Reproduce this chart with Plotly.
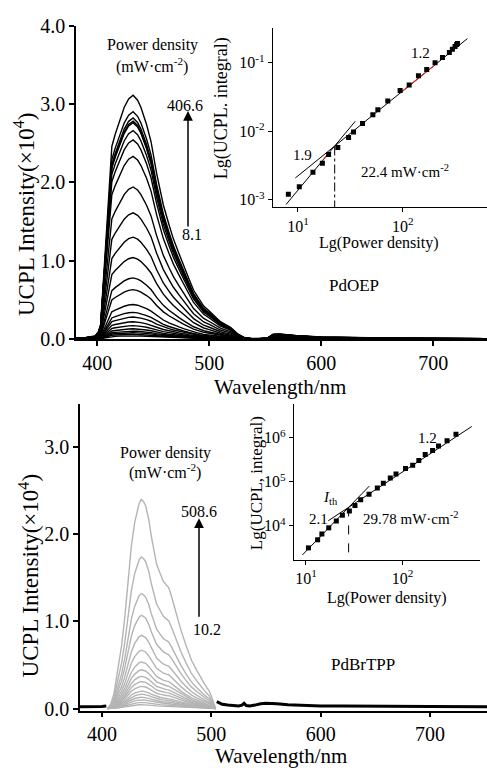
import plotly.graph_objects as go

W, H = 487, 773

# ---- PdOEP upconversion spectra (top panel), intensity in 1e4 counts ----
wl_oep = [381, 390, 398, 401, 403, 406, 409, 413, 416, 420, 424, 428, 432, 436, 439,
          444, 448, 453, 459, 464, 468, 473, 477, 482, 486, 491, 495, 500, 504, 510,
          515, 519, 525, 531, 537, 545, 552, 557, 563, 570, 580, 600, 630, 670, 710, 748]
shape_oep = [0.004, 0.006, 0.012, 0.03, 0.06, 0.28, 0.52, 0.79, 0.84, 0.90, 0.95, 0.985, 1.0, 0.98, 0.95,
             0.88, 0.81, 0.68, 0.55, 0.47, 0.41, 0.35, 0.30, 0.245, 0.20, 0.165, 0.135, 0.115, 0.097, 0.071,
             0.058, 0.048, 0.022, 0.006, 0.002, 0.001, 0.004, 0.02, 0.021, 0.018, 0.013, 0.008, 0.005, 0.003, 0.002, 0.001]
peaks_oep = [3.11, 2.90, 2.82, 2.78, 2.76, 2.66, 2.54, 2.33, 1.94, 1.61, 1.30, 1.04,
             0.78, 0.63, 0.44, 0.34, 0.28, 0.22, 0.17, 0.13, 0.10, 0.08, 0.06, 0.04]

# ---- PdOEP inset: integral vs power density ----
pow_oep = [8.1, 10.3, 13.9, 17.1, 19.6, 24.0, 30.4, 33.9, 41.3, 51.8, 57.8, 71.9,
           94.3, 115, 141, 169, 203, 239, 278, 297, 315, 326, 332]
int_oep = [0.0012, 0.00155, 0.00253, 0.0034, 0.00456, 0.0058, 0.0081, 0.0098, 0.013, 0.0175, 0.0206, 0.0276,
           0.0395, 0.0476, 0.0646, 0.080, 0.10, 0.12, 0.142, 0.158, 0.173, 0.186, 0.192]
fit_hi_oep_x = [9.44, 413]
fit_hi_oep_y = [0.00208, 0.226]
fit_lo_oep_x = [7.69, 35.2]
fit_lo_oep_y = [0.00085, 0.0140]
red_lo_oep_x = [17.1, 19.6]
red_lo_oep_y = [0.0037, 0.0048]
red_hi_oep_x = [94.4, 196]
red_hi_oep_y = [0.0362, 0.0895]
th_oep_x = [22.4, 22.4]
th_oep_y = [0.0060, 0.00078]

# ---- PdBrTPP spectra (bottom panel) ----
wl_tpp = [405, 408, 411, 414, 418, 421, 424, 427, 430, 432, 434, 436, 438, 440, 443, 445, 448, 450,
          453, 456, 459, 461, 464, 467, 472, 477, 482, 487, 490, 493, 496, 498, 500, 502, 504]
shape_tpp = [0.0, 0.02, 0.07, 0.16, 0.30, 0.44, 0.61, 0.78, 0.89, 0.94, 0.98, 1.0, 0.99, 0.97, 0.90, 0.83, 0.75, 0.69,
             0.65, 0.61, 0.59, 0.58, 0.53, 0.47, 0.38, 0.30, 0.23, 0.18, 0.15, 0.125, 0.10, 0.085, 0.06, 0.03, 0.0]
peaks_tpp = [2.40, 1.74, 1.32, 1.07, 0.84, 0.67, 0.535, 0.445, 0.37, 0.31, 0.255,
             0.20, 0.165, 0.13, 0.10, 0.07, 0.045]
wl_base = [380, 385, 390, 395, 400, 404, None, 505, 510, 515, 520, 525, 528, 530, 532, 535, 540, 545,
           550, 555, 560, 570, 580, 590, 600, 620, 650, 700, 752]
base_tpp = [0.02, 0.02, 0.025, 0.02, 0.025, 0.03, None, 0.08, 0.05, 0.04, 0.035, 0.03, 0.04, 0.06, 0.035, 0.03, 0.04, 0.055,
            0.06, 0.06, 0.055, 0.045, 0.04, 0.035, 0.03, 0.03, 0.025, 0.025, 0.02]

# ---- PdBrTPP inset ----
pow_tpp = [10.6, 13.2, 14.6, 17.2, 20.6, 23.8, 28.1, 32.1, 36.8, 44.9, 54.7, 63.1, 74.5, 85.3,
           107, 127, 147, 171, 204, 235, 288, 356]
int_tpp = [3162, 4830, 6550, 9030, 12900, 17500, 21800, 29000, 39400, 52500, 72400, 93300, 122000, 150000,
           200000, 237000, 305000, 415000, 517000, 655000, 859000, 1205000]
fit_hi_tpp_x = [17.0, 518]
fit_hi_tpp_y = [13100, 1807000]
fit_lo_tpp_x = [9.16, 45.2]
fit_lo_tpp_y = [2178, 80200]
red_lo_tpp_x = [12.5, 15.0]
red_lo_tpp_y = [4400, 6500]
th_tpp_x = [27.6, 27.6]
th_tpp_y = [26300, 1690]

FONT = "Liberation Serif"


def px(x):
    return x / W


def py(y):
    return 1 - y / H


fig = go.Figure()


def line(x, y, ax, color="black", width=1.3, dash=None):
    fig.add_trace(go.Scatter(x=x, y=y, mode="lines", xaxis=ax[0], yaxis=ax[1],
                             line=dict(color=color, width=width, dash=dash),
                             showlegend=False, hoverinfo="skip"))


# top spectra
for pk in peaks_oep:
    line(wl_oep, [pk * v for v in shape_oep], ("x", "y"), width=1.4)

# top inset
line(fit_hi_oep_x, fit_hi_oep_y, ("x2", "y2"), width=1)
line(fit_lo_oep_x, fit_lo_oep_y, ("x2", "y2"), width=1)
line(red_lo_oep_x, red_lo_oep_y, ("x2", "y2"), color="#d03020", width=1.2)
line(red_hi_oep_x, red_hi_oep_y, ("x2", "y2"), color="#d03020", width=1.2)
line(th_oep_x, th_oep_y, ("x2", "y2"), width=1, dash="dashdot")
fig.add_trace(go.Scatter(x=pow_oep, y=int_oep, mode="markers", xaxis="x2", yaxis="y2",
                         marker=dict(symbol="square", size=5, color="black"),
                         showlegend=False, hoverinfo="skip"))

# bottom spectra
line(wl_base, base_tpp, ("x3", "y3"), width=3)
for pk in peaks_tpp[::-1]:
    line(wl_tpp, [pk * v for v in shape_tpp], ("x3", "y3"), color="#b4b4b4", width=1.4)

# bottom inset
line(fit_hi_tpp_x, fit_hi_tpp_y, ("x4", "y4"), width=1)
line(fit_lo_tpp_x, fit_lo_tpp_y, ("x4", "y4"), width=1)
line(red_lo_tpp_x, red_lo_tpp_y, ("x4", "y4"), color="#d03020", width=1.2)
line(th_tpp_x, th_tpp_y, ("x4", "y4"), width=1, dash="dash")
fig.add_trace(go.Scatter(x=pow_tpp, y=int_tpp, mode="markers", xaxis="x4", yaxis="y4",
                         marker=dict(symbol="square", size=5, color="black"),
                         showlegend=False, hoverinfo="skip"))

main_ax = dict(showline=True, linecolor="black", linewidth=1.5, ticks="outside", ticklen=5,
               tickwidth=1.5, tickcolor="black", showgrid=False, zeroline=False,
               tickfont=dict(family=FONT, size=20, color="black"))
inset_ax = dict(showline=True, linecolor="black", linewidth=1.2, ticks="outside", ticklen=4,
                tickwidth=1.2, tickcolor="black", showgrid=False, zeroline=False, type="log",
                tickfont=dict(family=FONT, size=16, color="black"))

fig.update_layout(
    width=W, height=H, margin=dict(l=0, r=0, t=0, b=0),
    paper_bgcolor="white", plot_bgcolor="rgba(0,0,0,0)",
    font=dict(family=FONT, color="black"),
    xaxis=dict(main_ax, domain=[px(76), 1], anchor="y", range=[381, 748],
               tickvals=[400, 500, 600, 700]),
    yaxis=dict(main_ax, domain=[py(338), py(15)], anchor="x", range=[-0.005, 4.0],
               tickvals=[0, 1, 2, 3, 4], tickformat=".1f"),
    xaxis2=dict(inset_ax, domain=[px(273), 1], anchor="y2", range=[0.762, 2.803],
                tickvals=[10, 100], ticktext=["10<sup>1</sup>", "10<sup>2</sup>"]),
    yaxis2=dict(inset_ax, domain=[py(202), py(17)], anchor="x2", range=[-3.11, -0.484],
                tickvals=[0.001, 0.01, 0.1],
                ticktext=["10<sup>-3</sup>", "10<sup>-2</sup>", "10<sup>-1</sup>"]),
    xaxis3=dict(main_ax, domain=[px(80), 1], anchor="y3", range=[380, 752],
                tickvals=[400, 500, 600, 700]),
    yaxis3=dict(main_ax, domain=[py(720), py(405)], anchor="x3", range=[-0.022, 3.49],
                tickvals=[0, 1, 2, 3], tickformat=".1f"),
    xaxis4=dict(inset_ax, domain=[px(294), px(480)], anchor="y4", range=[0.876, 2.8],
                tickvals=[10, 100], ticktext=["10<sup>1</sup>", "10<sup>2</sup>"]),
    yaxis4=dict(inset_ax, domain=[py(565), py(405)], anchor="x4", range=[3.227, 6.757],
                tickvals=[1e4, 1e5, 1e6],
                ticktext=["10<sup>4</sup>", "10<sup>5</sup>", "10<sup>6</sup>"]),
)


def text(t, x, y, size=16, angle=0, **kw):
    fig.add_annotation(text=t, x=px(x), y=py(y), xref="paper", yref="paper",
                       showarrow=False, textangle=angle, xanchor="center", yanchor="middle",
                       font=dict(family=FONT, size=size, color="black"), **kw)


# axis titles
text("UCPL Intensity(×10<sup>4</sup>)", 24, 209, size=23, angle=-90)
text("Wavelength/nm", 280, 387, size=21)
text("UCPL Intensity(×10<sup>4</sup>)", 29, 581, size=23, angle=-90)
text("Wavelength/nm", 281, 767, size=21)
text("Lg(UCPL. integral)", 221, 100, size=18, angle=-90)
text("Lg(Power density)", 379, 239, size=16)
text("Lg(UCPL, integral)", 256, 486, size=17, angle=-90)
text("Lg(Power density)", 387, 604, size=16)

# top panel labels
text("Power density", 152, 35)
text("(mW·cm<sup>-2</sup>)", 152, 56)
text("406.6", 185, 97)
text("8.1", 192, 230)
text("PdOEP", 354, 283, size=17)
text("1.9", 302, 148, size=15)
text("22.4 mW·cm<sup>-2</sup>", 405, 165, size=15)
text("1.2", 420, 43, size=15)

# bottom panel labels
text("Power density", 165, 455)
text("(mW·cm<sup>-2</sup>)", 165, 474)
text("508.6", 199, 515)
text("10.2", 207, 637)
text("PdBrTPP", 363, 673, size=17)
text("<i>I</i><sub>th</sub>", 330, 501, size=15)
text("2.1", 318, 523, size=15)
text("29.78 mW·cm<sup>-2</sup>", 410, 522, size=15)
text("1.2", 427, 440, size=15)

# arrows
for x0, y0, y1 in [(188, 220, 103), (199, 622, 522)]:
    fig.add_annotation(x=px(x0), y=py(y1), xref="paper", yref="paper", ax=0, ay=y0 - y1,
                       showarrow=True, arrowhead=2, arrowsize=1.3, arrowwidth=1.5,
                       arrowcolor="black", text="")

# the page's default body margin would shift the figure off its 487x773 frame
fig.write_html("out.html", config={"displayModeBar": False},
               post_script="document.body.style.margin='0';")
